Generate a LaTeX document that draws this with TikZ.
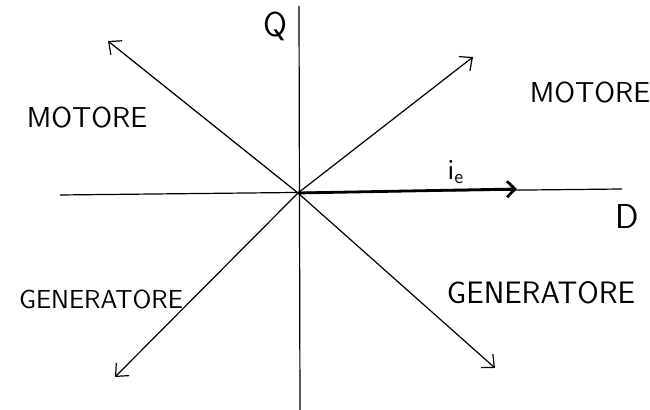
\documentclass[tikz,border=0pt]{standalone}
\usepackage{tikz}
\usetikzlibrary{arrows.meta}
\begin{document}
\begin{tikzpicture}[>={Straight Barb[length=5pt,width=9pt]},x=0.5pt,y=-0.5pt,font=\sffamily\Large,
  line width=0.6pt,
  zone/.style={font=\sffamily\Large},
  axlabel/.style={font=\sffamily\LARGE}]
\useasboundingbox (0,0) rectangle (650,410);
% axes
\coordinate (O) at (298,193);
\coordinate (Dl) at (60,195); \coordinate (Dr) at (622,189);
\coordinate (Qt) at (299,6); \coordinate (Qb) at (300,410);
\draw (Dl)--(Dr);
\draw (Qt)--(Qb);
\node[axlabel] (Q) at (275,26){Q};
\node[axlabel] (D) at (627,217){D};
% current vectors
\coordinate (ul) at (108,41); \coordinate (ur) at (473,57);
\coordinate (ll) at (115,377); \coordinate (lr) at (495,368);
\draw[->] (O)--(ul); \draw[->] (O)--(ur);
\draw[->] (O)--(ll); \draw[->] (O)--(lr);
\coordinate (iend) at (517,189);
\draw[-{Straight Barb[length=4pt,width=8pt]},line width=1.4pt] (O)--(iend);
\node (ie) at (456,172){i\textsubscript{e}};
% regions
\node[zone] (mL) at (87,118){MOTORE};
\node[zone] (mR) at (590,93){MOTORE};
\node[zone,font=\sffamily\fontsize{13}{15}\selectfont] (gL) at (101,299){GENERATORE};
\node[zone,font=\sffamily\fontsize{15.5}{18}\selectfont] (gR) at (541,293){GENERATORE};
\end{tikzpicture}
\end{document}
